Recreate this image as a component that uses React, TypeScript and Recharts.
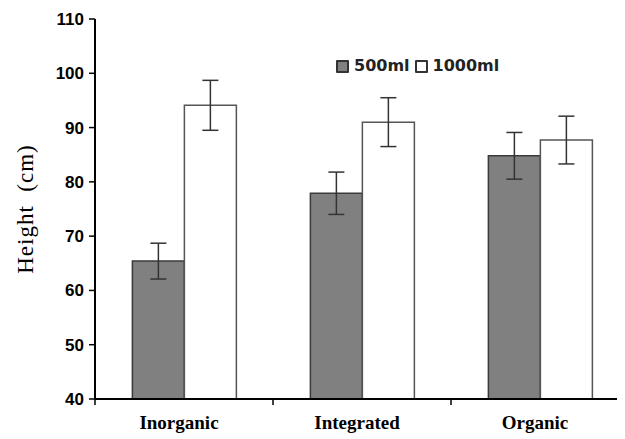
import { BarChart, Bar, XAxis, YAxis, ErrorBar, Legend } from 'recharts'

const categories = ['Inorganic', 'Integrated', 'Organic']
const ml500 = [65.4, 77.9, 84.8]
const ml1000 = [94.1, 91.0, 87.7]
const err500 = [3.3, 3.9, 4.3]
const err1000 = [4.6, 4.5, 4.4]
const yTicks = [40, 50, 60, 70, 80, 90, 100, 110]

const data = categories.map((name, i) => ({
	name,
	v500: ml500[i],
	v1000: ml1000[i],
	e500: err500[i],
	e1000: err1000[i],
}))

const TICK_MARGIN = 17

// category label plus tick marks on the band edges
function CategoryTick(props: any) {
	const { x, y, payload, index } = props
	const half = payload.offset || 0
	const axisY = y - TICK_MARGIN
	const last = index === categories.length - 1
	return (
		<g>
			<line x1={x - half} x2={x - half} y1={axisY} y2={axisY + 6} stroke="#000" strokeWidth={1.5} />
			{last && (
				<line x1={x + half} x2={x + half} y1={axisY} y2={axisY + 6} stroke="#000" strokeWidth={1.5} />
			)}
			<text
				x={x - 5}
				y={y}
				dy="0.71em"
				textAnchor="middle"
				fill="#000"
				fontFamily="Liberation Serif"
				fontWeight="bold"
				fontSize={19}
			>
				{payload.value}
			</text>
		</g>
	)
}

function LegendBox() {
	const item = (fill: string, label: string) => (
		<div style={{ display: 'flex', alignItems: 'center', marginRight: 5 }}>
			<div
				style={{
					width: 9,
					height: 9,
					background: fill,
					border: '2px solid #333',
					borderRadius: 1,
					marginRight: 5,
				}}
			/>
			<span>{label}</span>
		</div>
	)
	return (
		<div
			style={{
				display: 'flex',
				fontFamily: 'DejaVu Sans',
				fontWeight: 'bold',
				fontSize: 16,
				color: '#222',
				lineHeight: '16px',
			}}
		>
			{item('#808080', '500ml')}
			{item('#ffffff', '1000ml')}
		</div>
	)
}

export default function App() {
	return (
		<div
			style={{
				marginLeft: -8,
				marginTop: -8,
				width: 625,
				height: 439,
				overflow: 'hidden',
				background: '#fff',
			}}
		>
			<BarChart
				width={640}
				height={439}
				data={data}
				margin={{ top: 19, right: 11, left: 35, bottom: 0 }}
				barCategoryGap="21%"
				barGap={0}
			>
				<XAxis
					dataKey="name"
					height={40}
					axisLine={{ stroke: '#000', strokeWidth: 2 }}
					tickLine={false}
					tickSize={0}
					tickMargin={TICK_MARGIN}
					tick={<CategoryTick />}
				/>
				<YAxis
					domain={[40, 110]}
					ticks={yTicks}
					width={60}
					tickSize={6}
					tickMargin={5}
					axisLine={{ stroke: '#000', strokeWidth: 2 }}
					tickLine={{ stroke: '#000', strokeWidth: 1.5 }}
					tick={{
						fill: '#000',
						fontFamily: 'Liberation Sans',
						fontWeight: 'bold',
						fontSize: 17,
					}}
					label={({ viewBox }: any) => (
						<text
							x={25}
							y={viewBox.y + viewBox.height / 2}
							transform={`rotate(-90 25 ${viewBox.y + viewBox.height / 2})`}
							textAnchor="middle"
							dominantBaseline="central"
							fontFamily="Liberation Serif"
							fontSize={23}
							letterSpacing={1}
							fill="#000"
							style={{ whiteSpace: 'pre' }}
						>
							Height  (cm)
						</text>
					)}
				/>
				<Legend
					layout="vertical"
					verticalAlign="middle"
					align="center"
					content={() => <LegendBox />}
					wrapperStyle={{ top: 58, left: 336, width: 'auto', height: 'auto' }}
				/>
				<Bar
					dataKey="v500"
					name="500ml"
					fill="#808080"
					stroke="#3a3a3a"
					strokeWidth={1.5}
					isAnimationActive={false}
				>
					<ErrorBar dataKey="e500" width={8} stroke="#333" strokeWidth={1.5} />
				</Bar>
				<Bar
					dataKey="v1000"
					name="1000ml"
					fill="#ffffff"
					stroke="#555"
					strokeWidth={1.5}
					isAnimationActive={false}
				>
					<ErrorBar dataKey="e1000" width={8} stroke="#333" strokeWidth={1.5} />
				</Bar>
			</BarChart>
		</div>
	)
}
